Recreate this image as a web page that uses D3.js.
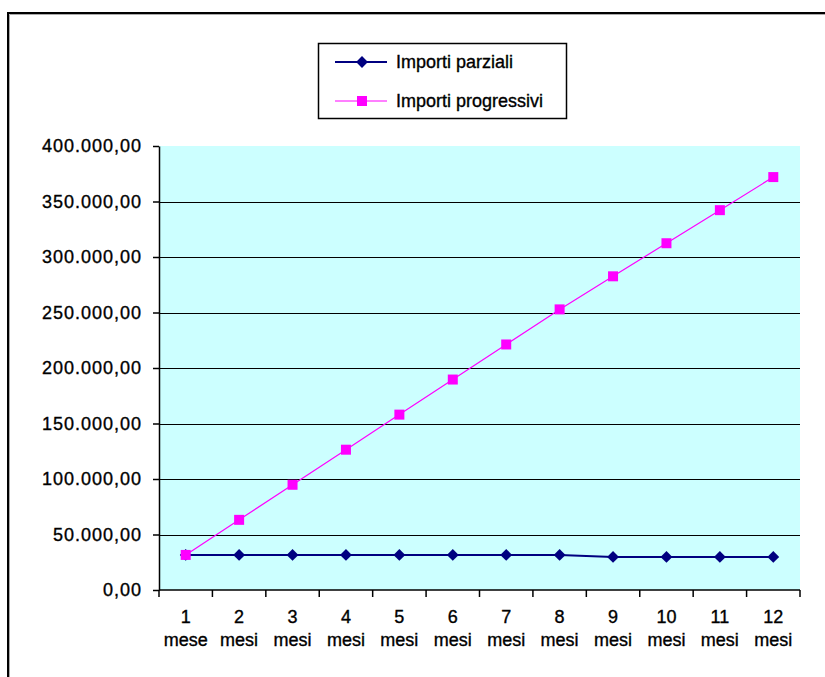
<!DOCTYPE html>
<html>
<head>
<meta charset="utf-8">
<script src="https://cdn.jsdelivr.net/npm/d3@7"></script>
<style>
  body { margin: 0; background: #fff; }
  text { font-family: "Liberation Sans", Arial, sans-serif; font-size: 18px; fill: #000; stroke: #000; stroke-width: 0.35px; }
</style>
</head>
<body>
<div id="chart"></div>
<script>
// Data
var months = ["1", "2", "3", "4", "5", "6", "7", "8", "9", "10", "11", "12"];
var monthUnits = ["mese", "mesi", "mesi", "mesi", "mesi", "mesi", "mesi", "mesi", "mesi", "mesi", "mesi", "mesi"];
var partials = [31600, 31600, 31600, 31600, 31600, 31600, 31600, 31600, 29800, 29800, 29800, 29800];
var progressives = [31600, 63200, 94800, 126400, 158000, 189600, 221200, 252800, 282600, 312400, 342200, 372000];
var yTicks = [0, 50000, 100000, 150000, 200000, 250000, 300000, 350000, 400000];
var seriesNames = ["Importi parziali", "Importi progressivi"];

var width = 825, height = 677;
var plot = { left: 159, right: 800, top: 146, bottom: 590 };

var svg = d3.select("#chart").append("svg")
  .attr("width", width)
  .attr("height", height);

// outer frame (only left and top edges are visible)
svg.append("path")
  .attr("d", "M8," + height + "V13H" + width)
  .attr("fill", "none")
  .attr("stroke", "#000")
  .attr("stroke-width", 2);
svg.append("path")
  .attr("d", "M9.5," + height + "V14.5H" + width)
  .attr("fill", "none")
  .attr("stroke", "#aaa")
  .attr("stroke-width", 1);

// scales
var x = d3.scaleBand()
  .domain(months)
  .range([plot.left, plot.right]);

var y = d3.scaleLinear()
  .domain([0, 400000])
  .range([plot.bottom, plot.top]);

// plot background
svg.append("rect")
  .attr("x", plot.left)
  .attr("y", plot.top)
  .attr("width", plot.right - plot.left)
  .attr("height", plot.bottom - plot.top)
  .attr("fill", "#ccffff");

// horizontal gridlines
svg.append("g")
  .selectAll("line")
  .data(yTicks.filter(d => d > 0 && d < 400000))
  .enter().append("line")
  .attr("x1", plot.left)
  .attr("x2", plot.right)
  .attr("y1", d => Math.round(y(d)) + 0.5)
  .attr("y2", d => Math.round(y(d)) + 0.5)
  .attr("stroke", "#000")
  .attr("stroke-width", 1);

// y axis, italian number format
var it = d3.formatLocale({ decimal: ",", thousands: ".", grouping: [3], currency: ["", " €"] });
var fmt = it.format(",.2f");

var yAxis = svg.append("g")
  .attr("transform", "translate(" + plot.left + ",0)")
  .call(d3.axisLeft(y).tickValues(yTicks).tickFormat(fmt).tickSize(6).tickSizeOuter(0).tickPadding(11));
yAxis.select(".domain").attr("stroke", "#000").attr("stroke-width", 1.5);
yAxis.selectAll(".tick line").attr("stroke", "#000").attr("stroke-width", 1.5);
yAxis.selectAll(".tick text")
  .attr("font-family", "Liberation Sans, Arial, sans-serif")
  .attr("font-size", 18)
  .attr("fill", "#000")
  .attr("letter-spacing", "1px");

// x axis line
svg.append("line")
  .attr("x1", plot.left)
  .attr("x2", plot.right)
  .attr("y1", plot.bottom)
  .attr("y2", plot.bottom)
  .attr("stroke", "#000")
  .attr("stroke-width", 1.5);

// x ticks sit between categories
var tickPos = months.map(d => x(d)).concat([x(months[months.length - 1]) + x.bandwidth()]);
svg.append("g")
  .selectAll("line")
  .data(tickPos)
  .enter().append("line")
  .attr("x1", d => d)
  .attr("x2", d => d)
  .attr("y1", plot.bottom)
  .attr("y2", plot.bottom + 7)
  .attr("stroke", "#000")
  .attr("stroke-width", 1.5);

// x labels on two lines
var xLabels = svg.append("g")
  .selectAll("text")
  .data(months)
  .enter().append("text")
  .attr("text-anchor", "middle");
xLabels.append("tspan")
  .attr("x", d => x(d) + x.bandwidth() / 2)
  .attr("y", 623)
  .text(d => d);
xLabels.append("tspan")
  .attr("x", d => x(d) + x.bandwidth() / 2)
  .attr("y", 646)
  .text((d, i) => monthUnits[i]);

// series
var cx = (d, i) => x(months[i]) + x.bandwidth() / 2;
var line = d3.line()
  .x((d, i) => cx(d, i))
  .y(d => y(d));

var square = d3.symbol().type(d3.symbolSquare).size(100);
var diamond = d3.symbol().type(d3.symbolSquare).size(70);

svg.append("path")
  .datum(partials)
  .attr("fill", "none")
  .attr("stroke", "#000080")
  .attr("stroke-width", 2)
  .attr("d", line);

svg.append("path")
  .datum(progressives)
  .attr("fill", "none")
  .attr("stroke", "#ff00ff")
  .attr("stroke-width", 1.2)
  .attr("d", line);

svg.append("g")
  .selectAll("path")
  .data(partials)
  .enter().append("path")
  .attr("d", diamond)
  .attr("transform", (d, i) => "translate(" + cx(d, i) + "," + y(d) + ") rotate(45)")
  .attr("fill", "#000080");

svg.append("g")
  .selectAll("path")
  .data(progressives)
  .enter().append("path")
  .attr("d", square)
  .attr("transform", (d, i) => "translate(" + cx(d, i) + "," + y(d) + ")")
  .attr("fill", "#ff00ff");

// legend
var legend = svg.append("g");
legend.append("rect")
  .attr("x", 318.5)
  .attr("y", 43.5)
  .attr("width", 248)
  .attr("height", 75)
  .attr("fill", "#fff")
  .attr("stroke", "#000")
  .attr("stroke-width", 1.5);

var legendColors = ["#000080", "#ff00ff"];
var legendRows = legend.selectAll(".legend")
  .data(seriesNames)
  .enter().append("g")
  .attr("class", "legend")
  .attr("transform", (d, i) => "translate(0," + (62 + i * 39) + ")");

legendRows.append("line")
  .attr("x1", 335)
  .attr("x2", 387)
  .attr("stroke", (d, i) => legendColors[i])
  .attr("stroke-width", (d, i) => i === 0 ? 2 : 1.2);

legendRows.append("path")
  .attr("d", (d, i) => i === 0 ? diamond() : square())
  .attr("transform", (d, i) => "translate(362,0)" + (i === 0 ? " rotate(45)" : ""))
  .attr("fill", (d, i) => legendColors[i]);

legendRows.append("text")
  .attr("x", 396)
  .attr("y", 6)
  .text(d => d);
</script>
</body>
</html>
